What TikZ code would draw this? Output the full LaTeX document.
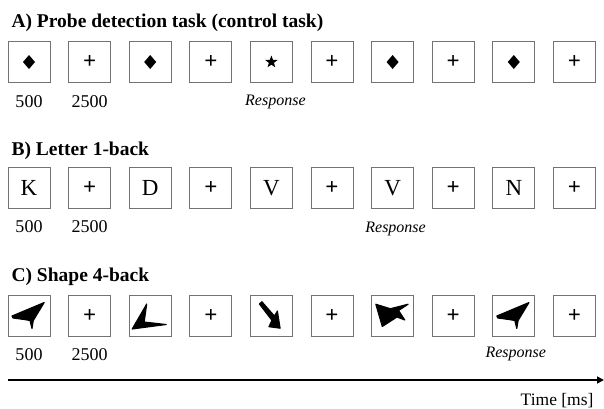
\documentclass[tikz,border=0pt]{standalone}
\usepackage{fontspec}
\setmainfont{Liberation Serif}
\usetikzlibrary{arrows.meta, positioning, shapes.geometric}

\begin{document}
\begin{tikzpicture}[x=1pt, y=-1pt,
      stim/.style={rectangle, draw=black!55, line width=0.9pt, minimum width=42pt, minimum height=41pt, inner sep=0pt, font=\fontsize{23}{23}\selectfont},
      fix/.style={stim, font=\fontsize{23}{23}\selectfont\bfseries},
      title/.style={anchor=base west, font=\fontsize{19.5}{22}\selectfont\bfseries},
      dur/.style={anchor=base, font=\fontsize{18}{20}\selectfont},
      resp/.style={anchor=base, font=\fontsize{16}{20}\selectfont\itshape},
      blot/.style={line width=1.1pt, line join=round},
      probe/.pic={\fill (0,-7) -- (6,0) -- (0,7) -- (-6,0) -- cycle;},
      plane/.pic={\filldraw[blot] (-17,0.5) -- (-16,2.5) -- (-5,4) -- (1,5) -- (3,13) -- (4.3,5) -- (15.2,-13) -- cycle;},
      corner/.pic={\filldraw[blot] (-3.5,-11.5) -- (-6,6.5) -- (16,9) -- (-18,13.5) -- cycle;},
      dart/.pic={\filldraw[blot] (-12,-11.5) -- (-9.5,-13.8) -- (3,0.5) -- (6,-4.5) -- (8.7,12.7) -- (-2.5,11.2) -- (0.6,4.9) -- cycle;},
      blob/.pic={\filldraw[blot] (-16.8,-11.3) -- (-2.3,-6.8) -- (15.5,-11.3) -- (6,-5) -- (12.2,4.5) -- (4.4,1.5) -- (-10.3,11) -- cycle;}]

      \useasboundingbox (0,0) rectangle (604,408);

      % A) probe detection
      \node[title] (ta) at (8,27) {A) Probe detection task (control task)};
      \foreach \i in {1,3,...,9}
        \node[stim] (a\i) at ({29+60.6*(\i-1)},62) {};
      \foreach \i in {2,4,...,10}
        \node[fix] (a\i) at ({29+60.6*(\i-1)},62) {+};
      \foreach \i in {1,3,7,9}
        \pic at (a\i) {probe};
      \node[star, star points=5, star point ratio=2.4, fill, inner sep=0pt, minimum size=13pt] (st) at (a5) {};
      \node[dur] (na1) at ([yshift=-24.5pt]a1.south) {500};
      \node[dur] (na2) at ([yshift=-24.5pt]a2.south) {2500};
      \node[resp] (ra) at ([xshift=4pt, yshift=-23pt]a5.south) {Response};

      % B) letter 1-back
      \node[title] (tb) at (8,155) {B) Letter 1-back};
      \foreach \i/\l in {1/K,3/D,5/V,7/V,9/N}
        \node[stim] (b\i) at ({29+60.6*(\i-1)},188) {\l};
      \foreach \i in {2,4,...,10}
        \node[fix] (b\i) at ({29+60.6*(\i-1)},188) {+};
      \node[dur] (nb1) at ([yshift=-23.5pt]b1.south) {500};
      \node[dur] (nb2) at ([yshift=-23.5pt]b2.south) {2500};
      \node[resp] (rb) at ([xshift=3pt, yshift=-23.5pt]b7.south) {Response};

      % C) shape 4-back
      \node[title] (tc) at (8,281) {C) Shape 4-back};
      \foreach \i in {1,3,...,9}
        \node[stim] (c\i) at ({29+60.6*(\i-1)},315.5) {};
      \foreach \i in {2,4,...,10}
        \node[fix] (c\i) at ({29+60.6*(\i-1)},315.5) {+};
      \pic at (c1) {plane};
      \pic at (c3) {corner};
      \pic at (c5) {dart};
      \pic at (c7) {blob};
      \pic at (c9) {plane};
      \node[dur] (nc1) at ([yshift=-24pt]c1.south) {500};
      \node[dur] (nc2) at ([yshift=-24pt]c2.south) {2500};
      \node[resp] (rc) at ([xshift=2pt, yshift=-21pt]c9.south) {Response};

      % time axis
      \coordinate (t0) at (8,380);
      \coordinate (t1) at (604,380);
      \draw[line width=1.6pt, -{Triangle[length=7pt, width=7pt]}] (t0) -- (t1);
      \node[anchor=base east, font=\fontsize{17.5}{20}\selectfont] (tm) at (597,405) {Time [ms]};
    \end{tikzpicture}
\end{document}
